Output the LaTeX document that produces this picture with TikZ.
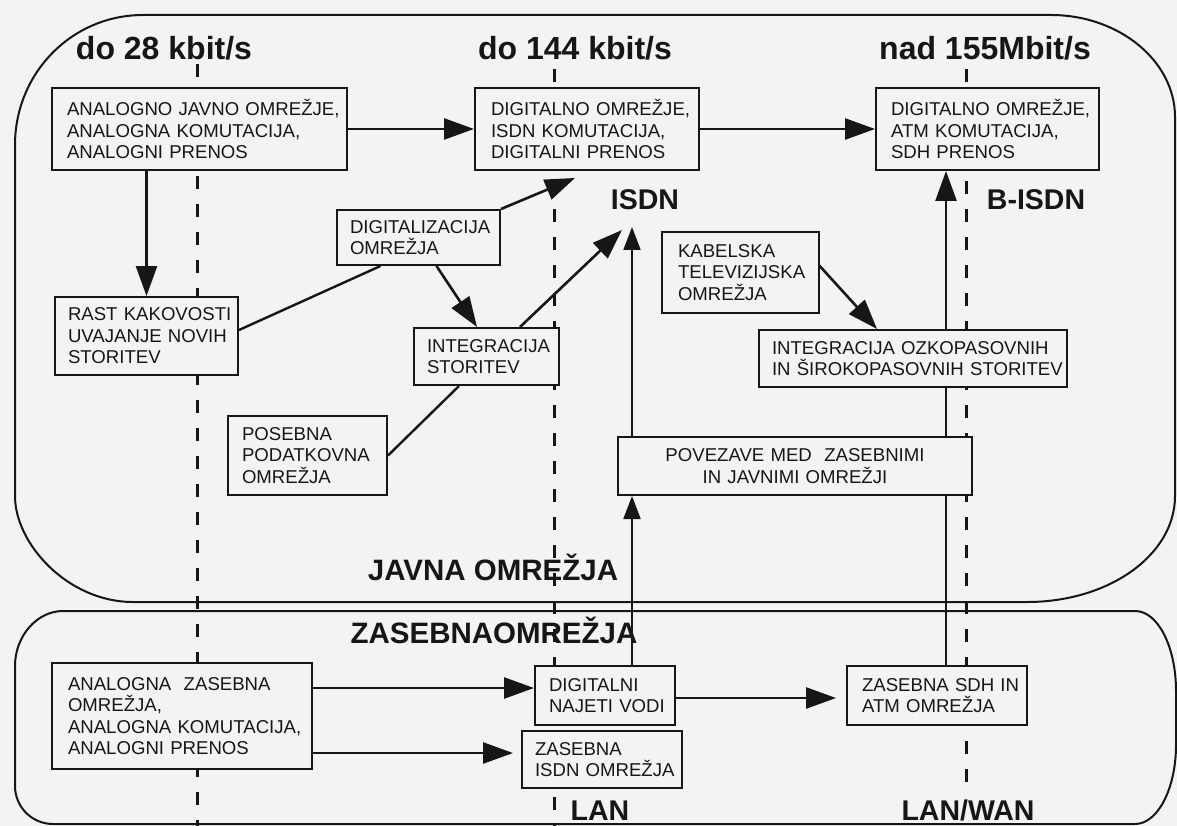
\documentclass[tikz,border=0pt]{standalone}
\usepackage{fontspec}
\setmainfont{Liberation Sans}
\usetikzlibrary{arrows.meta}
\pgfdeclarelayer{under}
\pgfdeclarelayer{lines}
\pgfsetlayers{under,lines,main}
\definecolor{bg}{RGB}{243,243,245}
\definecolor{ink}{RGB}{22,22,22}
\tikzset{
  box/.style={draw=ink, line width=2pt, fill=bg, inner ysep=0pt, align=left,
    font=\fontsize{18.6}{21.5}\selectfont, text=ink},
  region/.style={draw=ink, line width=2pt},
  divider/.style={draw=ink, line width=3pt, dash pattern=on 13pt off 15pt},
  arr/.style={draw=ink, line width=2.6pt, -{Triangle[length=30pt,width=21pt]}},
  thinarr/.style={draw=ink, line width=2pt, -{Triangle[length=23pt,width=17pt]}},
  link/.style={draw=ink, line width=2.4pt},
  title/.style={font=\bfseries\fontsize{32}{36}\selectfont, text=ink, anchor=base, inner sep=0pt},
  lbl/.style={font=\bfseries\fontsize{28.5}{32}\selectfont, text=ink, anchor=base, inner sep=0pt},
  big/.style={font=\bfseries\fontsize{29.5}{33}\selectfont, text=ink, anchor=base, inner sep=0pt}
}
\begin{document}
\begin{tikzpicture}[x=1pt,y=-1pt]
\useasboundingbox (0,0) rectangle (1177,826);
\begin{pgfonlayer}{under}
\fill[bg] (0,0) rectangle (1177,826);
% public networks region
\draw[region] (15,145) .. controls (15,73) and (72,15) .. (143,15)
  -- (1051,15) .. controls (1119,15) and (1175,61) .. (1175,117)
  -- (1175,496) .. controls (1175,555) and (1109,602) .. (1027,602)
  -- (133,602) .. controls (68,602) and (15,544) .. (15,496) -- cycle;
% private networks region
\draw[region] (15,666) .. controls (15,636) and (37,611) .. (63,611)
  -- (1135,611) .. controls (1158,611) and (1176,647) .. (1176,691)
  -- (1176,745) .. controls (1176,788) and (1158,824) .. (1135,824)
  -- (53,824) .. controls (32,824) and (15,807) .. (15,786) -- cycle;
% dashed dividers
\coordinate (v1t) at (197,64);  \coordinate (v1b) at (197,826);
\coordinate (v2t) at (554,69);  \coordinate (v2b) at (554,826);
\coordinate (v3t) at (966,69);  \coordinate (v3b) at (966,786);
\draw[divider] (v1t) -- (v1b);
\draw[divider] (v2t) -- (v2b);
\draw[divider] (v3t) -- (v3b);
\end{pgfonlayer}

% boxes
\path
 node[box, inner xsep=15pt, text width=265pt, minimum height=82pt] (A1) at (199.5,129)
   {\mbox{ANALOGNO JAVNO OMREŽJE,}\\\mbox{ANALOGNA KOMUTACIJA,}\\\mbox{ANALOGNI PRENOS}}
 node[box, inner xsep=16pt, text width=192pt, minimum height=82pt] (D1) at (587,129)
   {\mbox{DIGITALNO OMREŽJE,}\\\mbox{ISDN KOMUTACIJA,}\\\mbox{DIGITALNI PRENOS}}
 node[box, inner xsep=15pt, text width=193pt, minimum height=82pt] (D2) at (987.5,129)
   {\mbox{DIGITALNO OMREŽJE,}\\\mbox{ATM KOMUTACIJA,}\\\mbox{SDH PRENOS}}
 node[box, inner xsep=13pt, text width=157pt, minimum height=78pt] (R) at (146.5,336)
   {\mbox{RAST KAKOVOSTI}\\\mbox{UVAJANJE NOVIH}\\\mbox{STORITEV}}
 node[box, inner xsep=13pt, text width=137pt, minimum height=55pt] (DIG) at (418.5,237.5)
   {\mbox{DIGITALIZACIJA}\\\mbox{OMREŽJA}}
 node[box, inner xsep=13pt, text width=119pt, minimum height=57pt] (INT) at (486.5,356.5)
   {\mbox{INTEGRACIJA}\\\mbox{STORITEV}}
 node[box, inner xsep=16pt, text width=125pt, minimum height=81pt] (KAB) at (740.5,272.5)
   {\mbox{KABELSKA}\\\mbox{TELEVIZIJSKA}\\\mbox{OMREŽJA}}
 node[box, inner xsep=13pt, text width=282pt, minimum height=57pt] (INT2) at (913,358.5)
   {\mbox{INTEGRACIJA OZKOPASOVNIH}\\\mbox{IN ŠIROKOPASOVNIH STORITEV}}
 node[box, inner xsep=14pt, text width=131pt, minimum height=79pt] (POS) at (307.5,455.5)
   {\mbox{POSEBNA}\\\mbox{PODATKOVNA}\\\mbox{OMREŽJA}}
 node[box, align=center, inner xsep=14pt, text width=326pt, minimum height=58pt] (POV) at (795,466)
   {\mbox{POVEZAVE MED~ ZASEBNIMI}\\\mbox{IN JAVNIMI OMREŽJI}}
 node[box, inner xsep=16pt, text width=228pt, minimum height=106pt] (AZ) at (182,716)
   {\mbox{ANALOGNA~ ZASEBNA}\\\mbox{OMREŽJA,}\\\mbox{ANALOGNA KOMUTACIJA,}\\\mbox{ANALOGNI PRENOS}}
 node[box, inner xsep=14pt, text width=112pt, minimum height=59pt] (DIG2) at (605,695.5)
   {\mbox{DIGITALNI}\\\mbox{NAJETI VODI}}
 node[box, inner xsep=13pt, text width=134pt, minimum height=57pt] (ZIS) at (602,759.5)
   {\mbox{ZASEBNA}\\\mbox{ISDN OMREŽJA}}
 node[box, inner xsep=15pt, text width=150pt, minimum height=59pt] (ZSDH) at (937,695.5)
   {\mbox{ZASEBNA SDH IN}\\\mbox{ATM OMREŽJA}};

% labels
\node[title] (t1) at (164,60) {do 28 kbit/s};
\node[title] (t2) at (575,60) {do 144 kbit/s};
\node[title] (t3) at (985,60) {nad 155Mbit/s};
\node[lbl] (isdn) at (645,210) {ISDN};
\node[lbl] (bisdn) at (1036,210) {B-ISDN};
\node[big] (javna) at (493,580) {JAVNA OMREŽJA};
\node[big] (zasebna) at (494,643) {ZASEBNAOMREŽJA};
\node[lbl] (lan) at (600,820) {LAN};
\node[lbl] (lanwan) at (968,820) {LAN/WAN};

% helper coordinates for free arrow ends
\coordinate (d1tip) at (575,178);
\coordinate (isdntip1) at (622,230);
\coordinate (isdntip2) at (632,227);
\coordinate (vx) at (946,0);
\path ([yshift=7.5pt]DIG2.west) coordinate (dig2in);
\path ([xshift=-8pt,yshift=6.5pt]ZIS.west) coordinate (zisin);
\path ([xshift=-10pt,yshift=-2.5pt]ZSDH.west) coordinate (zsdhin);

% connectors (beneath the boxes)
\begin{pgfonlayer}{lines}
\draw[arr] (A1.east) -- (D1.west);
\draw[arr] (D1.east) -- (D2.west);
\draw[arr] (R.north |- A1.south) -- (R.north);
\draw[link] ([yshift=6pt]R.east) -- ([xshift=-38pt]DIG.south);
\draw[arr] (DIG.north east) -- (d1tip);
\draw[arr] ([xshift=18pt]DIG.south) -- ([xshift=-9.5pt]INT.north);
\draw[arr] ([xshift=33.5pt]INT.north) -- (isdntip1);
\draw[thinarr] (POV.north -| isdntip2) -- (isdntip2);
\draw[thinarr] (DIG2.north -| isdntip2) -- (POV.south -| isdntip2);
\draw[link] ([xshift=-27.5pt]INT.south) -- (POS.east);
\draw[arr] ([yshift=9.5pt,xshift=-3pt]KAB.east) -- ([xshift=-36pt]INT2.north);
\draw[arr] (ZSDH.north -| vx) -- (D2.south -| vx);
\draw[arr] (AZ.east |- dig2in) -- (dig2in);
\draw[arr] (AZ.east |- zisin) -- (zisin);
\draw[arr] (DIG2.east |- zsdhin) -- (zsdhin);
\end{pgfonlayer}
\end{tikzpicture}
\end{document}
